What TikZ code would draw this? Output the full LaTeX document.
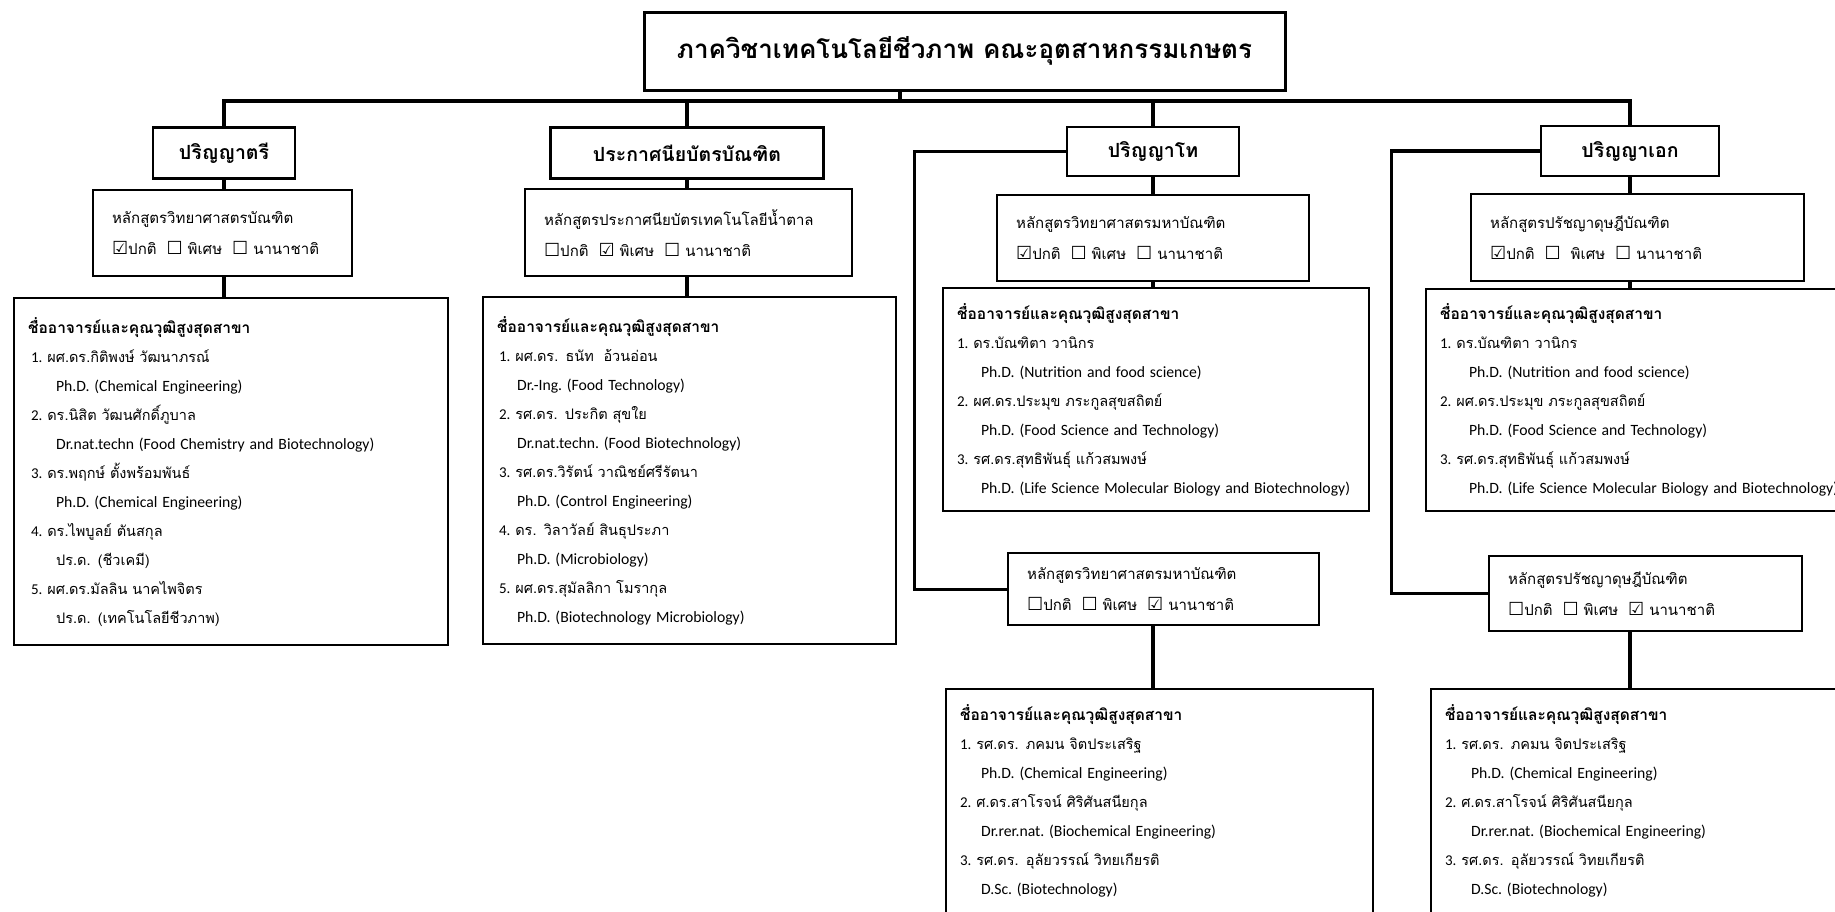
\documentclass[tikz,border=0pt]{standalone}
\usepackage{fontspec}
\setmainfont{Carlito}
\newfontfamily\thaifont[Script=Thai]{Loma}
\newfontfamily\symfont{DejaVu Sans}
\usetikzlibrary{positioning}
\newcommand{\chkon}{{\symfont\fontsize{18}{18}\selectfont ☑}}
\newcommand{\chkoff}{{\symfont\fontsize{18}{18}\selectfont ☐}}
\newcommand{\quali}[2][28pt]{\hspace*{#1}\mbox{\rmfamily\frenchspacing\fontsize{15.7}{29}\selectfont #2}}
\newcommand{\num}[1]{{\rmfamily\fontsize{15}{29}\selectfont #1.}\ }
\newcommand{\headline}{{\bfseries\fontsize{15.5}{29}\selectfont ชื่ออาจารย์และคุณวุฒิสูงสุดสาขา}}
\tikzset{conn/.style={line width=3.2pt}}
\tikzset{titlebox/.style={draw,line width=3pt,minimum width=641pt,minimum height=78pt,font=\thaifont\bfseries\fontsize{26}{32}\selectfont}}
\tikzset{degbox/.style={draw,line width=2.5pt,minimum height=51pt,font=\thaifont\bfseries\fontsize{19.5}{23}\selectfont}}
\tikzset{crsbox/.style={draw,line width=2.2pt,anchor=north west,align=left,inner xsep=19pt,font=\thaifont\fontsize{15}{31}\selectfont}}
\tikzset{facbox/.style={draw,line width=2.2pt,anchor=north west,align=left,inner xsep=14pt,font=\thaifont\fontsize{14.5}{29}\selectfont}}

\begin{document}
\begin{tikzpicture}[x=1pt,y=-1pt]
\useasboundingbox (0,0) rectangle (1835,911);
\node[titlebox] (title) at (964.5,51) {ภาควิชาเทคโนโลยีชีวภาพ คณะอุตสาหกรรมเกษตร};
\coordinate (bus) at (900,101);

\node[degbox,minimum width=142pt] (bsc) at (224,153) {ปริญญาตรี};
\node[degbox,minimum width=273pt] (grad) at (687,153) {ประกาศนียบัตรบัณฑิต};
\node[degbox,minimum width=172pt,minimum height=49pt] (msc) at (1153,151.5) {ปริญญาโท};
\node[degbox,minimum width=178pt,minimum height=50pt] (phd) at (1630,151) {ปริญญาเอก};

\node[crsbox,text width=221pt,minimum height=86pt] (bsccrs) at (92,189)
  {หลักสูตรวิทยาศาสตรบัณฑิต\\\chkon ปกติ\ \ \chkoff\ พิเศษ\ \ \chkoff\ นานาชาติ};
\node[crsbox,text width=289pt,minimum height=87pt] (gradcrs) at (524,188)
  {หลักสูตรประกาศนียบัตรเทคโนโลยีน้ำตาล\\\chkoff ปกติ\ \ \chkon\ พิเศษ\ \ \chkoff\ นานาชาติ};
\node[crsbox,text width=274pt,minimum height=86pt] (msccrs) at (996,194)
  {หลักสูตรวิทยาศาสตรมหาบัณฑิต\\\chkon ปกติ\ \ \chkoff\ พิเศษ\ \ \chkoff\ นานาชาติ};
\node[crsbox,text width=295pt,minimum height=87pt] (phdcrs) at (1470,193)
  {หลักสูตรปรัชญาดุษฎีบัณฑิต\\\chkon ปกติ\ \ \chkoff\ \ พิเศษ\ \ \chkoff\ นานาชาติ};
\node[crsbox,text width=273pt,minimum height=72pt] (mscint) at (1007,552)
  {หลักสูตรวิทยาศาสตรมหาบัณฑิต\\\chkoff ปกติ\ \ \chkoff\ พิเศษ\ \ \chkon\ นานาชาติ};
\node[crsbox,text width=275pt,minimum height=75pt] (phdint) at (1488,555)
  {หลักสูตรปรัชญาดุษฎีบัณฑิต\\\chkoff ปกติ\ \ \chkoff\ พิเศษ\ \ \chkon\ นานาชาติ};

\node[facbox,text width=406pt,minimum height=347pt] (bscfac) at (13,297)
  {\headline\\
   \hspace*{3pt}\num1ผศ.ดร.กิติพงษ์ วัฒนาภรณ์\\ \quali{Ph.D. (Chemical Engineering)}\\
   \hspace*{3pt}\num2ดร.นิสิต วัฒนศักดิ์ภูบาล\\ \quali{Dr.nat.techn (Food Chemistry and Biotechnology)}\\
   \hspace*{3pt}\num3ดร.พฤกษ์ ตั้งพร้อมพันธ์\\ \quali{Ph.D. (Chemical Engineering)}\\
   \hspace*{3pt}\num4ดร.ไพบูลย์ ตันสกุล\\ \hspace*{28pt}ปร.ด. (ชีวเคมี)\\
   \hspace*{3pt}\num5ผศ.ดร.มัลลิน นาคไพจิตร\\ \hspace*{28pt}ปร.ด. (เทคโนโลยีชีวภาพ)};
\node[facbox,text width=385pt,minimum height=347pt] (gradfac) at (482,296)
  {\headline\\
   \hspace*{2pt}\num1ผศ.ดร. ธนัท\ \ อ้วนอ่อน\\ \quali[20pt]{Dr.-Ing. (Food Technology)}\\
   \hspace*{2pt}\num2รศ.ดร. ประกิต สุขใย\\ \quali[20pt]{Dr.nat.techn. (Food Biotechnology)}\\
   \hspace*{2pt}\num3รศ.ดร.วิรัตน์ วาณิชย์ศรีรัตนา\\ \quali[20pt]{Ph.D. (Control Engineering)}\\
   \hspace*{2pt}\num4ดร. วิลาวัลย์ สินธุประภา\\ \quali[20pt]{Ph.D. (Microbiology)}\\
   \hspace*{2pt}\num5ผศ.ดร.สุมัลลิกา โมรากุล\\ \quali[20pt]{Ph.D. (Biotechnology Microbiology)}};
\node[facbox,text width=398pt,minimum height=223pt] (mscfac) at (942,287)
  {\headline\\
   \num1ดร.บัณฑิตา วานิกร\\ \quali[24pt]{Ph.D. (Nutrition and food science)}\\
   \num2ผศ.ดร.ประมุข ภระกูลสุขสถิตย์\\ \quali[24pt]{Ph.D. (Food Science and Technology)}\\
   \num3รศ.ดร.สุทธิพันธุ์ แก้วสมพงษ์\\ \quali[24pt]{Ph.D. (Life Science Molecular Biology and Biotechnology)}};
\node[facbox,text width=397pt,minimum height=222pt] (phdfac) at (1425,288)
  {\headline\\
   \num1ดร.บัณฑิตา วานิกร\\ \quali[29pt]{Ph.D. (Nutrition and food science)}\\
   \num2ผศ.ดร.ประมุข ภระกูลสุขสถิตย์\\ \quali[29pt]{Ph.D. (Food Science and Technology)}\\
   \num3รศ.ดร.สุทธิพันธุ์ แก้วสมพงษ์\\ \quali[29pt]{Ph.D. (Life Science Molecular Biology and Biotechnology)}};
\node[facbox,text width=399pt,minimum height=250pt] (mscintfac) at (945,688)
  {\headline\\
   \num1รศ.ดร. ภคมน จิตประเสริฐ\\ \quali[21pt]{Ph.D. (Chemical Engineering)}\\
   \num2ศ.ดร.สาโรจน์ ศิริศันสนียกุล\\ \quali[21pt]{Dr.rer.nat. (Biochemical Engineering)}\\
   \num3รศ.ดร. อุลัยวรรณ์ วิทยเกียรติ\\ \quali[21pt]{D.Sc. (Biotechnology)}\\ ~};
\node[facbox,text width=397pt,minimum height=250pt] (phdintfac) at (1430,688)
  {\headline\\
   \num1รศ.ดร. ภคมน จิตประเสริฐ\\ \quali[26pt]{Ph.D. (Chemical Engineering)}\\
   \num2ศ.ดร.สาโรจน์ ศิริศันสนียกุล\\ \quali[26pt]{Dr.rer.nat. (Biochemical Engineering)}\\
   \num3รศ.ดร. อุลัยวรรณ์ วิทยเกียรติ\\ \quali[26pt]{D.Sc. (Biotechnology)}\\ ~};

\draw[conn] (title.south -| bus) -- (bus);
\draw[conn] (bsc.north) |- (bus) -| (phd.north);
\draw[conn] (grad.north) -- (grad.north |- bus);
\draw[conn] (msc.north) -- (msc.north |- bus);
\draw[conn] (bsc.south) -- (bsc.south |- bsccrs.north);
\draw[conn] (bsccrs.south -| bsc) -- (bscfac.north -| bsc);
\draw[conn] (grad.south) -- (grad.south |- gradcrs.north);
\draw[conn] (gradcrs.south -| grad) -- (gradfac.north -| grad);
\draw[conn] (msc.south) -- (msc.south |- msccrs.north);
\draw[conn] (msccrs.south -| msc) -- (mscfac.north -| msc);
\draw[conn] (phd.south) -- (phd.south |- phdcrs.north);
\draw[conn] (phdcrs.south -| phd) -- (phdfac.north -| phd);
\draw[conn] (msc.west) -- ++(-151,0) |- (mscint.west);
\draw[conn] (phd.west) -- ++(-148,0) |- (phdint.west);
\draw[conn] (mscint.south -| msc) -- (mscintfac.north -| msc);
\draw[conn] (phdint.south -| phd) -- (phdintfac.north -| phd);
\end{tikzpicture}
\end{document}
